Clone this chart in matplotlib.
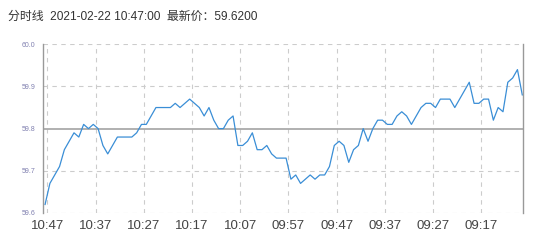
import matplotlib.pyplot as plt

plt.rcParams['font.family'] = ['Liberation Sans', 'Noto Sans CJK SC', 'DejaVu Sans']

# minute prices, newest first (10:47 going back)
prices = [59.62, 59.67, 59.69, 59.71, 59.75, 59.77, 59.79, 59.78, 59.81, 59.80,
          59.81, 59.80, 59.76, 59.74, 59.76, 59.78, 59.78, 59.78, 59.78, 59.79,
          59.81, 59.81, 59.83, 59.85, 59.85, 59.85, 59.85, 59.86, 59.85, 59.86,
          59.87, 59.86, 59.85, 59.83, 59.85, 59.82, 59.80, 59.80, 59.82, 59.83,
          59.76, 59.76, 59.77, 59.79, 59.75, 59.75, 59.76, 59.74, 59.73, 59.73,
          59.73, 59.68, 59.69, 59.67, 59.68, 59.69, 59.68, 59.69, 59.69, 59.71,
          59.76, 59.77, 59.76, 59.72, 59.75, 59.76, 59.80, 59.77, 59.80, 59.82,
          59.82, 59.81, 59.81, 59.83, 59.84, 59.83, 59.81, 59.83, 59.85, 59.86,
          59.86, 59.85, 59.87, 59.87, 59.87, 59.85, 59.87, 59.89, 59.91, 59.86,
          59.86, 59.87, 59.87, 59.82, 59.85, 59.84, 59.91, 59.92, 59.94, 59.88]
tick_labels = ['10:47', '10:37', '10:27', '10:17', '10:07',
               '09:57', '09:47', '09:37', '09:27', '09:17']
y_ticks = [59.6, 59.7, 59.8, 59.9, 60.0]
pre_close = 59.8
title = '分时线  2021-02-22 10:47:00  最新价：59.6200'

fig = plt.figure(figsize=(5.47, 2.49), dpi=100)
ax = fig.add_axes([0.078, 0.145, 0.879, 0.677])

x = list(range(len(prices)))
ax.plot(x, prices, color='#3a8ed6', linewidth=0.9)

# grid
grid_kw = dict(color='#cccccc', linestyle=(0, (4, 4)), linewidth=0.8, zorder=0)
for yv in y_ticks:
    if yv != pre_close:
        ax.axhline(yv, **grid_kw)
tick_pos = [10 * k + 0.5 for k in range(len(tick_labels))]
for xv in tick_pos:
    ax.axvline(xv, **grid_kw)
ax.axhline(pre_close, color='#aaaaaa', linewidth=1.3, zorder=1)

ax.set_xlim(-0.5, 99.25)
ax.set_ylim(59.6, 60.0)
ax.set_xticks(tick_pos)
ax.set_xticklabels(tick_labels, fontsize=9.5, color='#444444')
ax.set_yticks(y_ticks)
ax.set_yticklabels([f'{v:.1f}' for v in y_ticks], fontsize=5, color='#8080b0')
ax.tick_params(axis='both', length=0)
ax.tick_params(axis='x', pad=5)
ax.tick_params(axis='y', pad=5)

for side in ['top', 'bottom']:
    ax.spines[side].set_visible(False)
for side in ['left', 'right']:
    ax.spines[side].set_color('#999999')
    ax.spines[side].set_linewidth(1.0)

fig.text(8 / 547, 1 - 17 / 249, title, fontsize=8.6, color='#333333', va='center', ha='left')

fig.savefig('out.png', dpi=100)
